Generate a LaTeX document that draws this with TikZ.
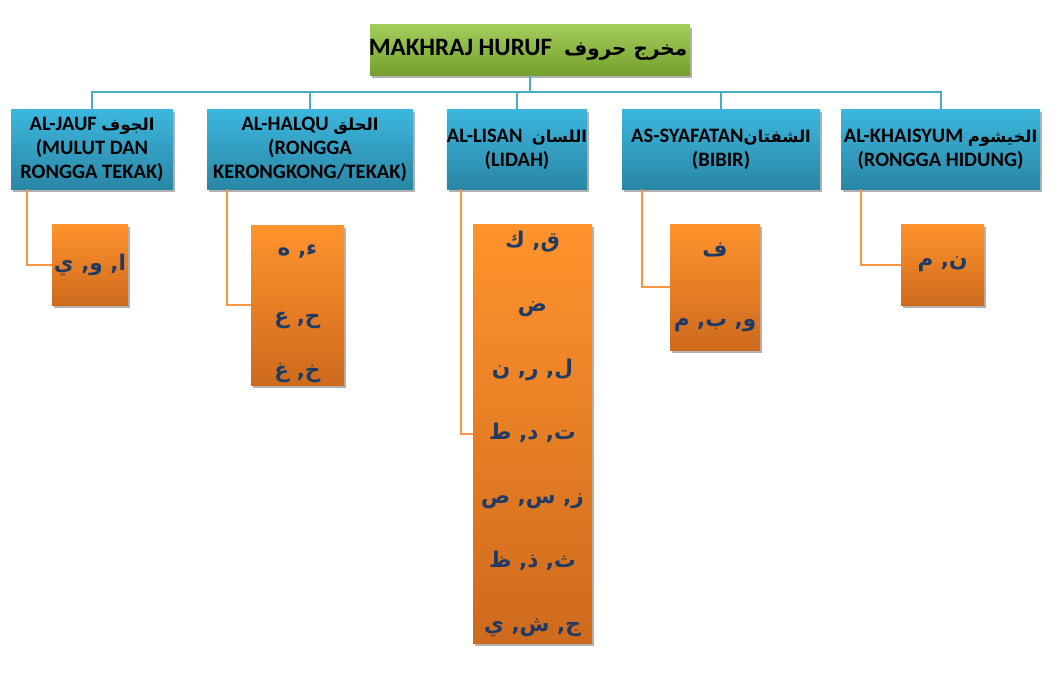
\documentclass[tikz,border=0pt]{standalone}
\usepackage{fontspec}
\setmainfont{Carlito}
\newfontfamily\arabicfont[Script=Arabic,Scale=0.8]{DejaVu Sans}
\TeXXeTstate=1
\usetikzlibrary{calc}
\usetikzlibrary{shadows}
\definecolor{grtop}{HTML}{A3CD5B}
\definecolor{grbot}{HTML}{75A02E}
\definecolor{bltop}{HTML}{3CB7DE}
\definecolor{blbot}{HTML}{2A86A5}
\definecolor{ortop}{HTML}{FF932C}
\definecolor{orbot}{HTML}{CE6A1D}
\definecolor{blline}{HTML}{4BACC6}
\definecolor{orline}{HTML}{F79646}
\definecolor{artext}{HTML}{1F3B64}
\newcommand{\ar}[1]{{\arabicfont\bfseries\beginR #1\endR}}
\tikzset{
  boxshadow/.style={drop shadow={shadow xshift=2pt,shadow yshift=-3pt,opacity=0.3,fill=black}},
  mainbox/.style={boxshadow,top color=grtop,bottom color=grbot,minimum width=320pt,minimum height=50pt,
    inner sep=0pt,font=\fontsize{25}{29}\selectfont\bfseries},
  partbox/.style={boxshadow,top color=bltop,bottom color=blbot,minimum height=80pt,inner sep=0pt,
    align=center,font=\fontsize{20.5}{24}\selectfont\bfseries},
  letterbox/.style={boxshadow,top color=ortop,bottom color=orbot,inner sep=0pt,align=center,
    text=artext,font=\fontsize{27}{30}\selectfont},
  blueline/.style={draw=blline,line width=2pt},
  orangeline/.style={draw=orline,line width=2pt},
}
\begin{document}
\begin{tikzpicture}[x=1pt,y=-1pt]
\useasboundingbox (0,0) rectangle (1059,685);
\node[mainbox] (makhraj) at (530,50) {\hspace{-4pt}MAKHRAJ HURUF\hspace{12pt}\ar{مخرج حروف}};
\coordinate (bus) at (530,92);
% bahagian makhraj
\node[partbox,minimum width=162pt] (jauf) at (92,149) {AL-JAUF \ar{الجوف}\\(MULUT DAN\\RONGGA TEKAK)};
\node[partbox,minimum width=206pt] (halqu) at (310,149) {AL-HALQU \ar{الحلق}\\(RONGGA\\KERONGKONG/TEKAK)};
\node[partbox,minimum width=140pt] (lisan) at (517,149) {AL-LISAN \ \ar{اللسان}\\(LIDAH)};
\node[partbox,minimum width=198pt] (syafatan) at (721,149) {AS-SYAFATAN\ar{الشفتان}\\(BIBIR)};
\node[partbox,minimum width=199pt] (khaisyum) at (940.5,149) {AL-KHAISYUM \ar{الخيشوم}\\(RONGGA HIDUNG)};
% huruf
\node[letterbox,minimum width=76pt,minimum height=81pt] (jauf-ltr) at (90,264.5) {\ar{ا, و, ي}};
\node[letterbox,minimum width=93pt,minimum height=160pt] (halqu-ltr) at (297.5,305)
  {\raisebox{-12pt}[0pt][0pt]{\begin{tabular}{@{}c@{}}\ar{ء, ه}\\[38pt]\ar{ح, ع}\\[24pt]\ar{خ, غ}\end{tabular}}};
\node[letterbox,minimum width=119pt,minimum height=419pt] (lisan-ltr) at (532.5,433.5)
  {\ar{ق, ك}\\[34pt]\ar{ض}\\[34pt]\ar{ل, ر, ن}\\[34pt]\ar{ت, د, ط}\\[34pt]\ar{ز, س, ص}\\[34pt]\ar{ث, ذ, ظ}\\[34pt]\ar{ج, ش, ي}};
\node[letterbox,minimum width=90pt,minimum height=126pt] (syafatan-ltr) at (715,287)
  {\ar{ف}\\[40pt]\ar{و, ب, م}};
\node[letterbox,minimum width=83pt,minimum height=81pt] (khaisyum-ltr) at (942.5,264.5) {\ar{ن, م}};
% garis
\draw[blueline] (makhraj.south) -- (bus);
\foreach \n in {jauf,halqu,lisan,syafatan,khaisyum}
  \draw[blueline] (bus) -| (\n.north);
\foreach \n in {jauf,halqu,lisan,syafatan,khaisyum}
  \draw[orangeline] ($(\n.south west)!0.1!(\n.south east)$) |- (\n-ltr.west);
\end{tikzpicture}
\end{document}
